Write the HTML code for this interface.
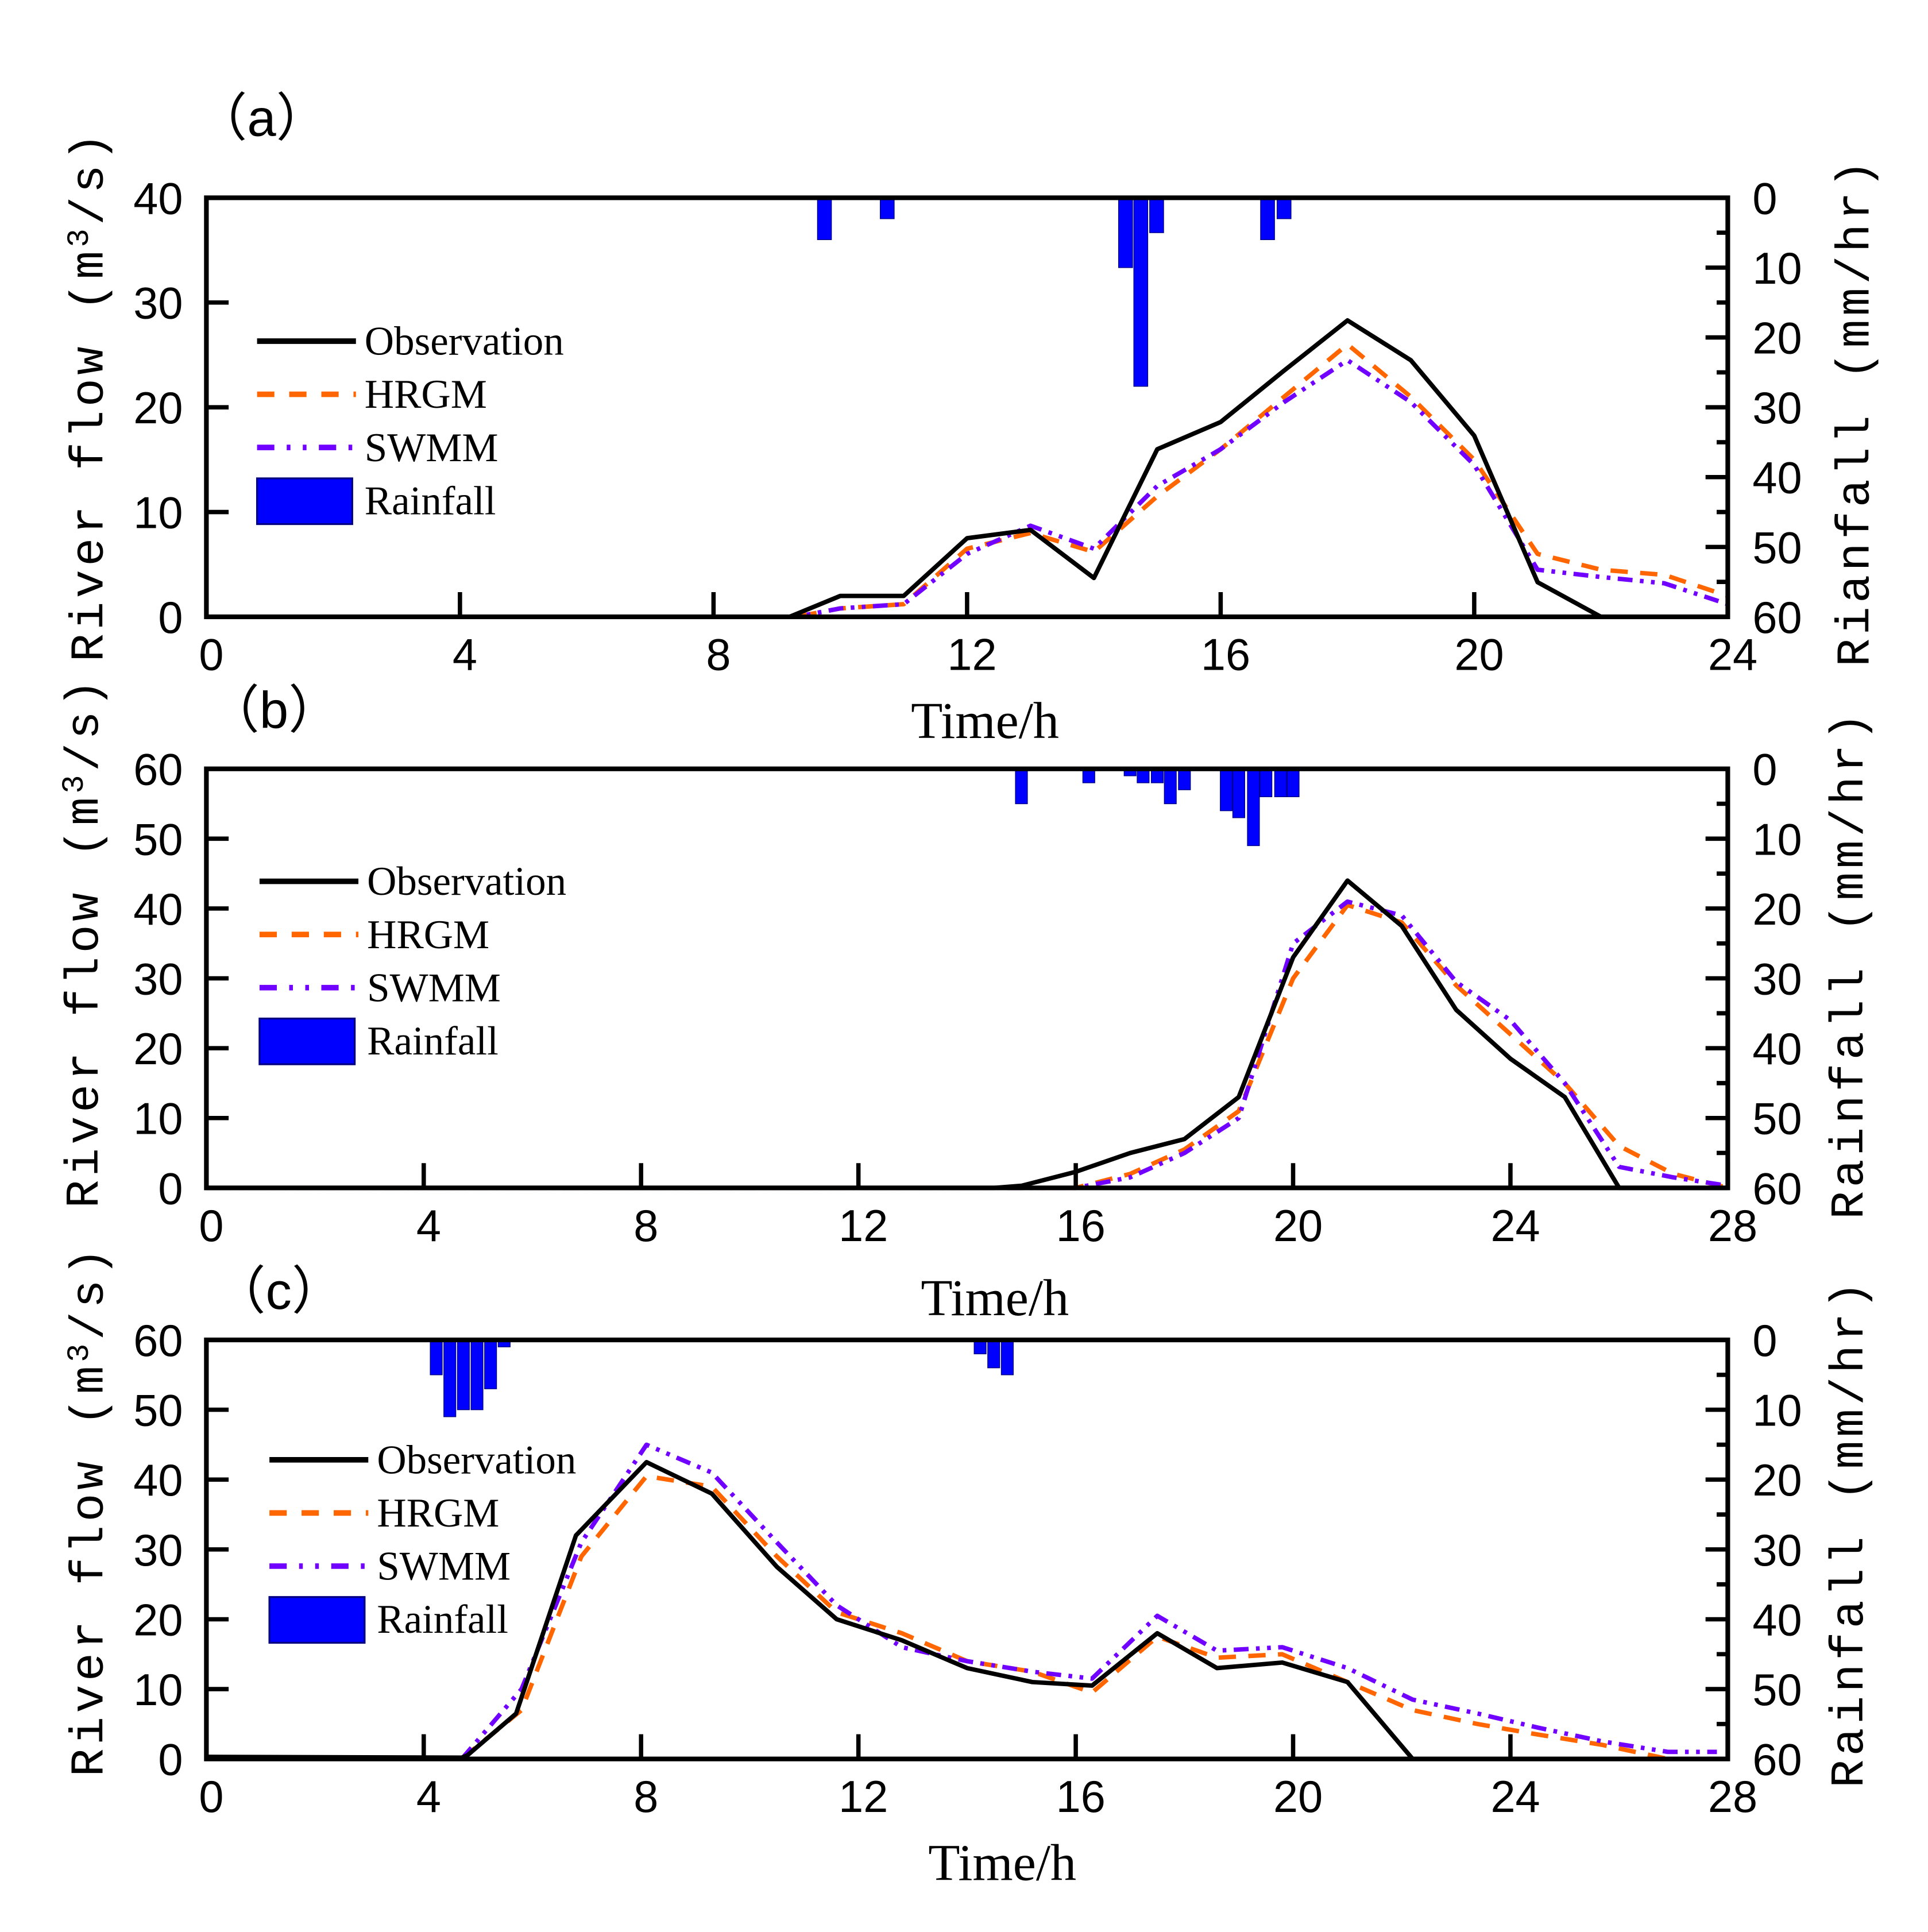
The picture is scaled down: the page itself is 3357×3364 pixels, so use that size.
<!DOCTYPE html>
<html><head><meta charset="utf-8"><style>
html,body{margin:0;padding:0;background:#fff;}
svg{display:block;}
text{font-family:"Liberation Sans",Arial,sans-serif;}
.serif{font-family:"Liberation Serif","Times New Roman",serif;}
.mono{font-family:"Liberation Mono","Courier New",monospace;}
</style></head><body>
<svg id="fig" width="3357" height="3364" viewBox="0 0 1560 1563" preserveAspectRatio="none" xmlns="http://www.w3.org/2000/svg">
<rect x="0" y="0" width="1560" height="1563" fill="#fff"/>
</svg>
<script>
// ---- Panel (a) data ----
const aObsX=[0,9.2,10,11,12,13,14,15,16,17,18,19,20,21,22,24];
const aObsY=[0,0,2,2,7.5,8.3,3.7,16,18.6,23.5,28.3,24.5,17.3,3.3,0,0];
const aHrgmX=[0,9.3,10,11,12,13,14,15,16,17,18,19,20,21,22,23,24];
const aHrgmY=[0,0,0.8,1.2,6.5,8,6.2,11.5,16,21,26,21,15,6,4.5,4,2];
const aSwmmX=[0,9.3,10,11,12,13,14,15,16,17,18,19,20,21,22,23,24];
const aSwmmY=[0,0,0.8,1.2,6,8.7,6.5,12.5,16,20.5,24.5,20.5,14.5,4.5,3.8,3.2,1.2];
const aRainX=[9.75,10.74,14.5,14.74,14.99,16.74,17.0];
const aRainY=[6,3,10,27,5,6,3];
// ---- Panel (b) data ----
const bObsX=[0,14.5,15,16,17,18,19,20,21,22,23,24,25,26,28];
const bObsY=[0,0,0.3,2.3,5,7,13,33,44,37.5,25.5,18.5,13,0,0];
const bHrgmX=[0,16,17,18,19,20,21,22,23,24,25,26,27,28];
const bHrgmY=[0,0,2,5.5,11,30,40.5,38,29,22,15,6,2,0];
const bSwmmX=[0,16,17,18,19,20,21,22,23,24,25,26,27,28];
const bSwmmY=[0,0,1.5,5,10,35,41,39,29.5,24,15,3,1.5,0.3];
const bRainX=[15.0,16.24,17.0,17.24,17.5,17.74,18.0,18.77,19.0,19.27,19.5,19.77,20.0];
const bRainY=[5,2,1,2,2,5,3,6,7,11,4,4,4];
// ---- Panel (c) data ----
const cObsX=[0,4.7,4.8,5.7,6.8,8.1,9.3,10.5,11.6,12.8,14,15.2,16.3,17.5,18.6,19.8,21,22.2];
const cObsY=[0.3,0.2,0.5,6.5,32,42.5,38,27.5,20,17,13,11,10.5,18,13,13.8,11,0];
const cHrgmX=[4.7,5.8,6.9,8.1,9.3,10.5,11.6,12.8,14,15.2,16.3,17.5,18.6,19.8,21,22.2,23.4,24.5,25.7,26.9,27.7];
const cHrgmY=[0,7,29,40.5,39,29,21,18,14,12.5,9.5,17.5,14.5,15,11,7,5,3.5,2,0,0];
const cSwmmX=[4.7,5.8,6.9,8.1,9.3,10.5,11.6,12.8,14,15.2,16.3,17.5,18.6,19.8,21,22.2,23.4,24.5,25.7,26.9,27.8];
const cSwmmY=[0,10,31,45,41,31,22,16,14,12.5,11.5,20.5,15.5,16,13,8.5,6.5,4.5,2.5,1,1];
const cRainX=[4.23,4.48,4.73,4.98,5.23,5.48,14.24,14.49,14.74];
const cRainY=[5,11,10,10,7,1,2,4,5];
// ticks
const xTicksA=[0,4,8,12,16,20,24];
const xTicksBC=[0,4,8,12,16,20,24,28];
const yTicksA=[0,10,20,30,40];
const yTicksBC=[0,10,20,30,40,50,60];
const rTicks=[0,10,20,30,40,50,60];

const NS='http://www.w3.org/2000/svg';
const svg=document.getElementById('fig');
function mk(tag,attrs,parent){const e=document.createElementNS(NS,tag);for(const k in attrs)e.setAttribute(k,attrs[k]);(parent||svg).appendChild(e);return e;}

function panel(p){
  const g=mk('g',{});
  
  
  const L=167,R=1398,T=p.top,B=p.top+339;
  const sx=v=>L+(v/p.xmax)*(R-L);
  const sy=v=>B-(v/p.ymax)*(B-T);
  const sr=v=>T+(v/60)*(B-T);
  const bw=(R-L)/p.xmax*0.22;
  p.rx.forEach((x,i)=>{
    const r=mk('rect',{x:sx(x)-bw/2,y:T,width:bw,height:sr(p.ry[i])-T,fill:'#0000ff',stroke:'#000080','stroke-width':0.6},g);
    
    
  });
  function line(xs,ys,color,dash,name){
    const d=xs.map((x,i)=>(i?'L':'M')+sx(x).toFixed(1)+','+sy(ys[i]).toFixed(1)).join('');
    const a={d:d,fill:'none',stroke:color,'stroke-width':3.6,'stroke-linejoin':'round'};
    if(dash)a['stroke-dasharray']=dash;
    const e=mk('path',a,g);
    
    
  }
  line(p.hx,p.hy,'#ff6600','14 10','hrgm-line');
  line(p.wx,p.wy,'#7000ff','12 6 3 6 3 6','swmm-line');
  line(p.ox,p.oy,'#000','','observation-line');
  const f=mk('rect',{x:L,y:T,width:R-L,height:B-T,fill:'none',stroke:'#000','stroke-width':3.8},g);
  
  
  p.xt.forEach(v=>{
    mk('line',{x1:sx(v),x2:sx(v),y1:B,y2:B-20,stroke:'#000','stroke-width':3.5},g);
    const t=mk('text',{x:sx(v)+4,y:B+43,'font-size':36,'text-anchor':'middle'},g);
    t.textContent=v;
    
    
  });
  p.yt.forEach(v=>{
    mk('line',{x1:L,x2:L+18,y1:sy(v),y2:sy(v),stroke:'#000','stroke-width':3.5},g);
    const t=mk('text',{x:148,y:sy(v)+13,'font-size':36,'text-anchor':'end'},g);
    t.textContent=v;
    
    
  });
  for(let v=0;v<=60;v+=5){
    const major=v%10===0;
    mk('line',{x1:R,x2:R-(major?18:9),y1:sr(v),y2:sr(v),stroke:'#000','stroke-width':3.5},g);
  }
  rTicks.forEach(v=>{
    const t=mk('text',{x:1418,y:sr(v)+13,'font-size':36},g);
    t.textContent=v;
    
    
  });
  const xt=mk('text',{x:p.tx,y:p.ty,'font-size':42,'text-anchor':'middle',class:'serif'},g);
  xt.textContent='Time/h';
  
  
  const yl=mk('text',{x:0,y:0,'font-size':38,'text-anchor':'middle','letter-spacing':3,class:'mono',transform:`translate(${p.ylx},${p.yly}) rotate(-90)`},g);
  yl.innerHTML='River flow (m<tspan dy="-12" font-size="25">3</tspan><tspan dy="12">/s)</tspan>';
  
  
  const yr=mk('text',{x:0,y:0,'font-size':38,'text-anchor':'middle','letter-spacing':3,class:'mono',transform:`translate(${p.yrx},${p.yry}) rotate(-90)`},g);
  yr.textContent=p.rtitle;
  
  
  const pl=mk('text',{x:p.lx,y:p.ly,'font-size':42},g);
  pl.textContent='（'+p.id+'）';
  
  
  const lg=mk('g',{},g);
  
  
  const items=[['Observation','#000',''],['HRGM','#ff6600','14 12'],['SWMM','#7000ff','14 10 3 10 3 10']];
  items.forEach((it,i)=>{
    const y=p.legY+i*43;
    const a={x1:p.legX,x2:p.legX+80,y1:y,y2:y,stroke:it[1],'stroke-width':4.5};
    if(it[2])a['stroke-dasharray']=it[2];
    mk('line',a,lg);
    const t=mk('text',{x:p.legX+87,y:y+11,'font-size':33,class:'serif'},lg);
    t.textContent=it[0];
    
    
  });
  const ry=p.legY+3*43;
  mk('rect',{x:p.legX,y:ry-18,width:77,height:37,fill:'#0000ff',stroke:'#000080','stroke-width':1.5},lg);
  const t=mk('text',{x:p.legX+87,y:ry+11,'font-size':33,class:'serif'},lg);
  t.textContent='Rainfall';
  
  
}

panel({id:'a',top:160,xmax:24,ymax:40,ox:aObsX,oy:aObsY,hx:aHrgmX,hy:aHrgmY,wx:aSwmmX,wy:aSwmmY,rx:aRainX,ry:aRainY,xt:xTicksA,yt:yTicksA,tx:797,ty:597,ylx:83,yly:320,yrx:1512,yry:333,rtitle:'Rianfall (mm/hr)',lx:158,ly:110,legX:208,legY:276});
panel({id:'b',top:622,xmax:28,ymax:60,ox:bObsX,oy:bObsY,hx:bHrgmX,hy:bHrgmY,wx:bSwmmX,wy:bSwmmY,rx:bRainX,ry:bRainY,xt:xTicksBC,yt:yTicksBC,tx:805,ty:1064,ylx:79,yly:762,yrx:1507,yry:780,rtitle:'Rainfall (mm/hr)',lx:168,ly:589,legX:210,legY:713});
panel({id:'c',top:1084,xmax:28,ymax:60,ox:cObsX,oy:cObsY,hx:cHrgmX,hy:cHrgmY,wx:cSwmmX,wy:cSwmmY,rx:cRainX,ry:cRainY,xt:xTicksBC,yt:yTicksBC,tx:811,ty:1521,ylx:83,yly:1222,yrx:1507,yry:1240,rtitle:'Rainfall (mm/hr)',lx:173,ly:1059,legX:218,legY:1181});
</script>
</body></html>
